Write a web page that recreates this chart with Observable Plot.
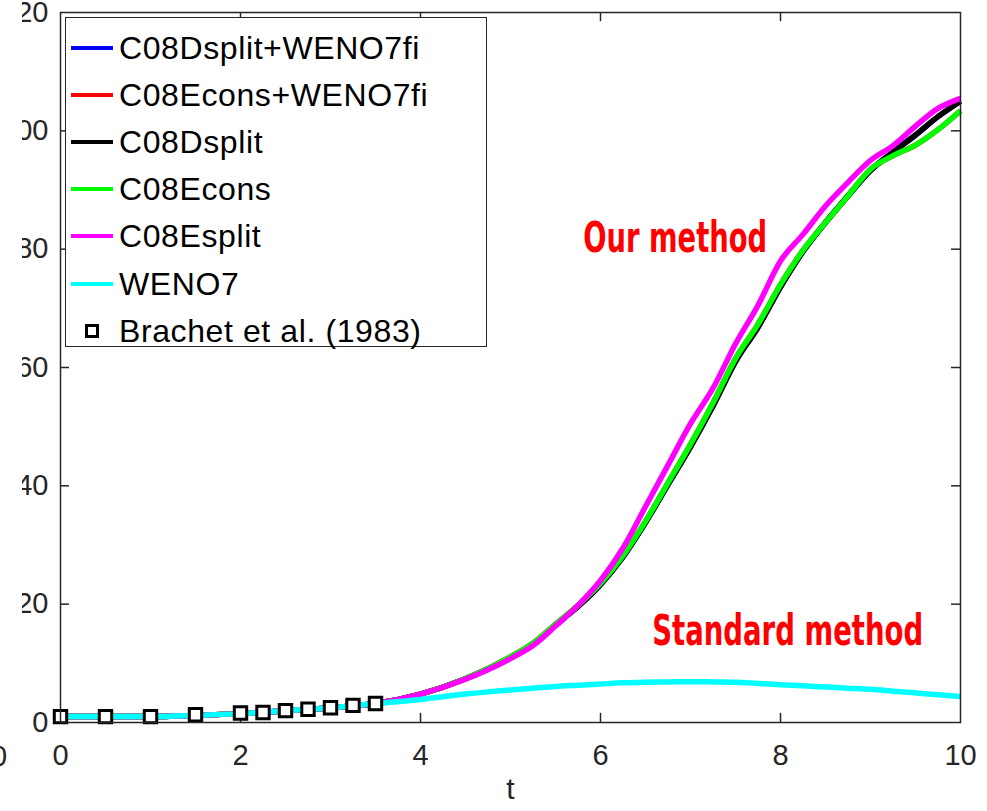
<!DOCTYPE html>
<html><head><meta charset="utf-8">
<script src="https://cdn.jsdelivr.net/npm/d3@7"></script>
<script src="https://cdn.jsdelivr.net/npm/@observablehq/plot@0.6"></script>
<style>
body{margin:0;background:#fff;}
#wrap{position:relative;width:987px;height:811px;overflow:hidden;background:#fff;}
#legend{position:absolute;left:65px;top:17px;width:420px;height:328px;border:1.5px solid #262626;background:#fff;font-family:"Liberation Sans",Arial,Helvetica,sans-serif;font-size:32px;letter-spacing:0.6px;color:#000;}
.row{position:absolute;left:0;height:47px;display:flex;align-items:center;white-space:nowrap;line-height:1;}
.sw{margin-left:5px;width:42px;height:4px;margin-right:6px;flex:none;}
.mk{width:8px;height:8px;border:3px solid #000;background:#fff;flex:none;}
</style></head><body><div id="wrap"></div>
<script>
// ---- data ----
const tVals = [0,0.5,1,1.5,2,2.5,3,3.5,4,4.5,5,5.25,5.5,5.75,6,6.25,6.5,6.75,7,7.25,7.5,7.75,8,8.25,8.5,8.75,9,9.25,9.5,9.75,10];
const seriesNames = ["C08Dsplit+WENO7fi","C08Econs+WENO7fi","C08Dsplit","C08Econs","C08Esplit","WENO7"];
const seriesColors = ["#0000ff","#ff0000","#000000","#00ff00","#ff00ff","#00ffff"];
const dsplitWeno = [1.0,1.0,1.0,1.2,1.5,2.0,2.5,3.2,4.8,7.4,11.0,13.3,16.5,19.6,23.3,28.0,33.8,40.2,46.6,53.5,61.0,66.8,73.6,79.6,84.5,89.0,93.3,96.4,99.3,102.4,105.0];
const econsWeno  = [1.0,1.0,1.0,1.2,1.5,2.0,2.5,3.2,4.8,7.4,11.1,13.4,16.6,19.8,23.5,28.2,34.0,40.5,47.0,54.0,61.5,67.3,74.0,79.8,84.5,89.0,93.5,95.8,97.6,100.2,103.4];
const dsplit     = [1.0,1.0,1.0,1.2,1.5,2.0,2.5,3.2,4.8,7.4,11.0,13.3,16.5,19.6,23.3,28.0,33.8,40.2,46.6,53.5,61.0,66.8,73.6,79.6,84.5,89.0,93.3,96.4,99.3,102.4,105.0];
const econs      = [1.0,1.0,1.0,1.2,1.5,2.0,2.5,3.2,4.8,7.4,11.1,13.4,16.6,19.8,23.5,28.2,34.0,40.5,47.0,54.0,61.5,67.3,74.0,79.8,84.5,89.0,93.5,95.8,97.6,100.2,103.4];
const esplit     = [1.0,1.0,1.0,1.2,1.5,2.0,2.5,3.2,4.8,7.3,10.8,13.0,16.3,19.8,24.0,29.5,36.5,43.5,50.5,56.5,64.0,70.5,78.0,82.5,87.3,91.3,95.0,97.5,100.8,103.8,105.5];
const weno7      = [1.0,1.0,1.0,1.2,1.5,2.0,2.5,3.2,3.9,4.8,5.5,5.8,6.1,6.3,6.5,6.7,6.8,6.85,6.9,6.85,6.8,6.6,6.4,6.2,6.0,5.8,5.6,5.3,5.0,4.7,4.4];
const seriesValues = [dsplitWeno, econsWeno, dsplit, econs, esplit, weno7];
const brachetT = [0,0.5,1,1.5,2,2.25,2.5,2.75,3,3.25,3.5];
const brachetV = [1.0,1.0,1.0,1.3,1.6,1.7,2.0,2.25,2.5,2.9,3.2];
const brachetName = "Brachet et al. (1983)";
const xTicks = [0,2,4,6,8,10];
const yTicks = [0,20,40,60,80,100,120];
const annoText = ["Our method","Standard method"];
const annoT = [6.83, 8.08];
const annoV = [81.8, 15.3];
const annoWidth = [184, 271];

// ---- tables ----
const rows = [];
seriesNames.forEach((name,i)=>seriesValues[i].forEach((v,j)=>rows.push({name, t:tVals[j], v})));
const brachet = brachetT.map((t,i)=>({t, v:brachetV[i]}));
const annos = annoText.map((s,i)=>({s, t:annoT[i], v:annoV[i]}));
const innerX = xTicks.slice(1,-1), innerY = yTicks.slice(1,-1);
const axisCol = "#262626";

const plot = Plot.plot({
  width: 987, height: 811,
  marginLeft: 60, marginRight: 27, marginTop: 12, marginBottom: 89,
  x: {domain:[0,10], label:null},
  y: {domain:[0,120], label:null},
  color: {domain: seriesNames, range: seriesColors},
  style: {fontFamily:"'Liberation Sans', Arial, Helvetica, sans-serif", fontSize:"29px", color:axisCol, background:"white"},
  marks: [
    Plot.axisX({ticks:xTicks, tickSize:0, tickPadding:22, fontSize:29, fill:axisCol}),
    Plot.axisY({ticks:yTicks, tickSize:0, tickPadding:12, fontSize:29, fill:axisCol}),
    Plot.ruleX(innerX, {x:d=>d, y1:0, y2:1.55, stroke:axisCol, strokeWidth:1.5}),
    Plot.ruleX(innerX, {x:d=>d, y1:120, y2:118.45, stroke:axisCol, strokeWidth:1.5}),
    Plot.ruleY(innerY, {y:d=>d, x1:0, x2:0.1, stroke:axisCol, strokeWidth:1.5}),
    Plot.ruleY(innerY, {y:d=>d, x1:10, x2:9.9, stroke:axisCol, strokeWidth:1.5}),
    Plot.line(rows, {x:"t", y:"v", z:"name", stroke:"name", strokeWidth:5.5, strokeLinejoin:"round", strokeLinecap:"butt", curve:"monotone-x"}),
    Plot.dot(brachet, {x:"t", y:"v", symbol:"square", r:7, stroke:"#000", strokeWidth:3, fill:"#fff"}),
    Plot.frame({stroke:axisCol, strokeWidth:1.5}),
    Plot.text(annos, {x:"t", y:"v", text:"s", fill:"#ff0000", fontSize:42, fontWeight:"bold", fontFamily:"'Liberation Sans Narrow', 'DejaVu Sans Condensed', Arial, sans-serif", textAnchor:"middle", lineAnchor:"middle"}),
    Plot.text(["t"], {text:d=>d, frameAnchor:"bottom", dy:76, fontSize:30, fill:axisCol})
  ]
});

const svg = d3.select(plot);
svg.selectAll("text").each(function(){
  const i = annoText.indexOf(this.textContent);
  if (i >= 0) { this.setAttribute("textLength", annoWidth[i]); this.setAttribute("lengthAdjust","spacingAndGlyphs"); }
});
// crop of y tick labels as in the reference image
const ns = "http://www.w3.org/2000/svg";
const defs = svg.insert("defs", ":first-child");
defs.append("clipPath").attr("id","ylabclip").attr("clipPathUnits","userSpaceOnUse")
  .append("rect").attr("x",22).attr("y",0).attr("width",120).attr("height",811);
const ylab = svg.select('g[aria-label="y-axis tick label"]').node();
if (ylab) { const w = document.createElementNS(ns,"g"); ylab.parentNode.insertBefore(w, ylab); w.appendChild(ylab); w.setAttribute("clip-path","url(#ylabclip)"); }
// partially visible neighbouring tick label at the far left edge
svg.append("text").attr("x",-1).attr("y",756).attr("dy","0.35em").attr("text-anchor","middle")
  .attr("fill",axisCol).attr("font-size",29).text("0");

const wrap = document.getElementById("wrap");
wrap.appendChild(plot);

// legend
const legend = document.createElement("div");
legend.id = "legend";
const entries = seriesNames.map((n,i)=>({n, c:seriesColors[i]})).concat([{n:brachetName, marker:true}]);
entries.forEach((e,i)=>{
  const r = document.createElement("div");
  r.className = "row";
  r.style.top = (6 + 47.2*i) + "px";
  const s = document.createElement("div");
  if (e.marker) { s.className = "mk"; s.style.marginLeft = "19px"; s.style.marginRight = "20px"; }
  else { s.className = "sw"; s.style.background = e.c; }
  const tx = document.createElement("span");
  tx.textContent = e.n;
  r.appendChild(s); r.appendChild(tx);
  legend.appendChild(r);
});
wrap.appendChild(legend);
</script></body></html>
